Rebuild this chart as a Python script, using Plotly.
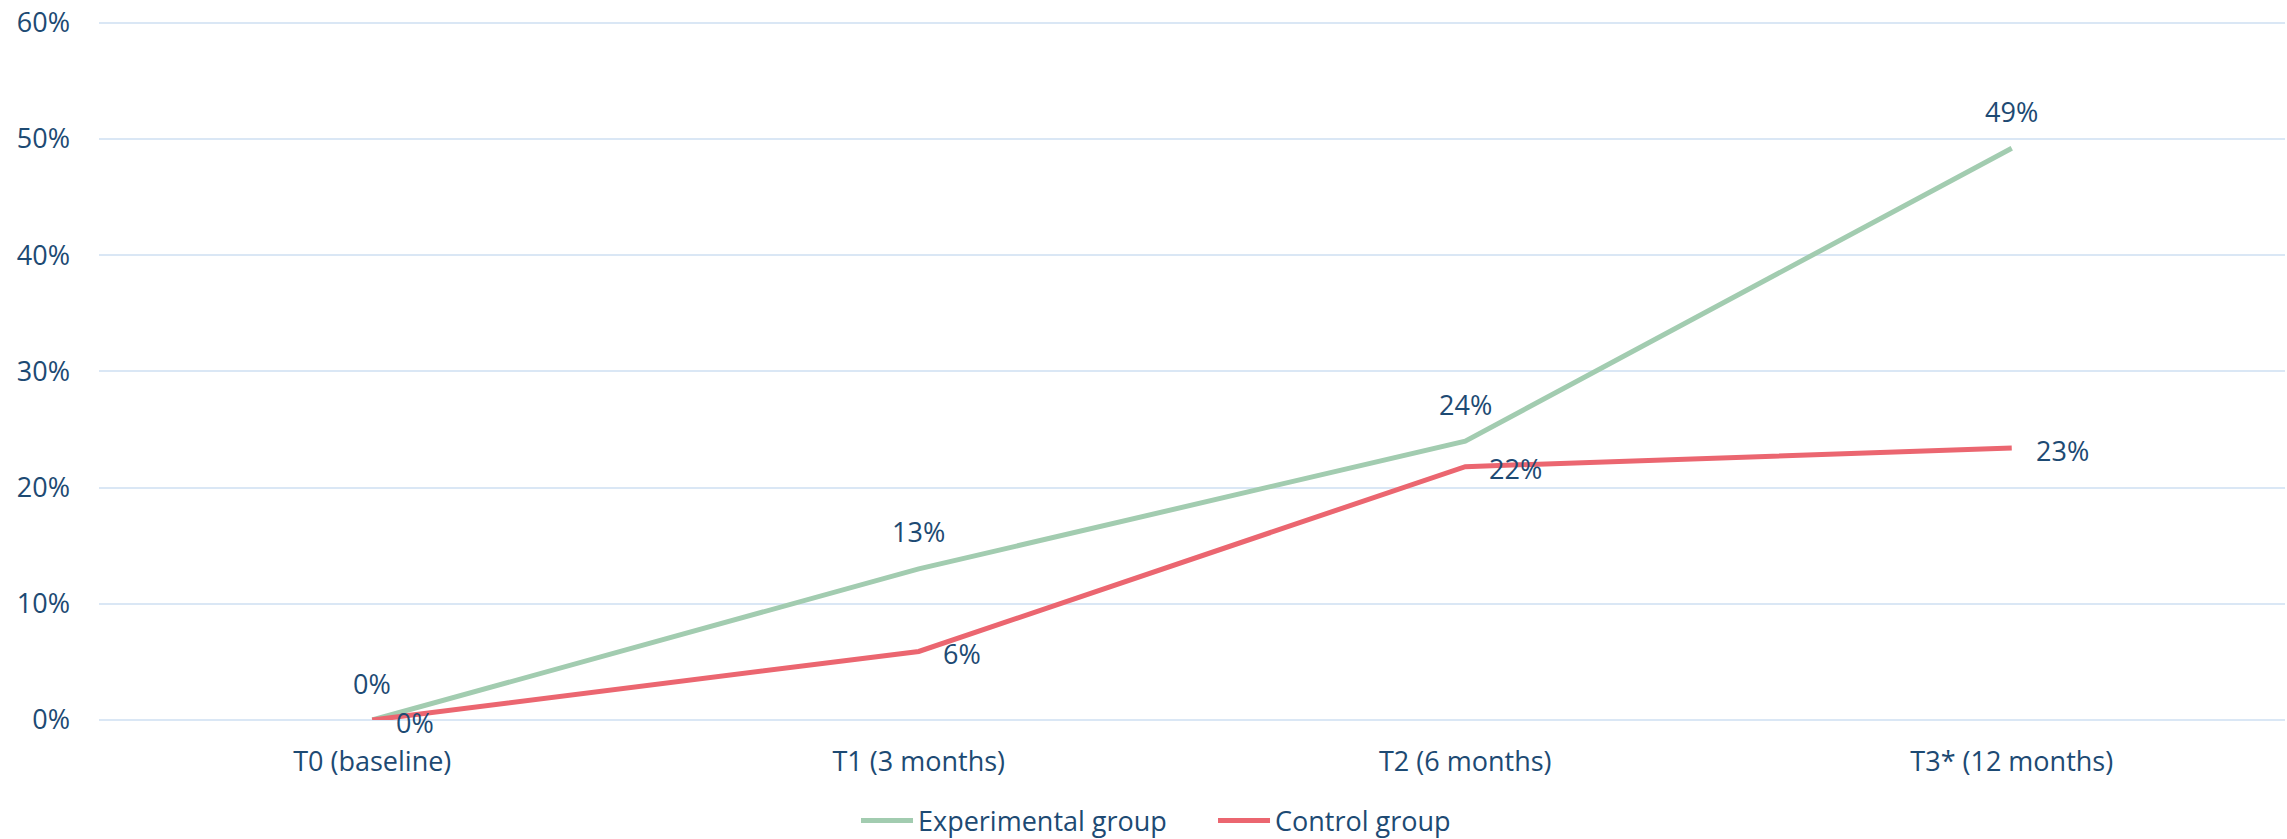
import plotly.graph_objects as go

categories = ["T0 (baseline)", "T1 (3 months)", "T2 (6 months)", "T3* (12 months)"]
experimental = [0.0, 0.13, 0.24, 0.492]
control = [0.0, 0.059, 0.218, 0.234]
y_ticks = [0, 0.1, 0.2, 0.3, 0.4, 0.5, 0.6]
y_tick_labels = ["0%", "10%", "20%", "30%", "40%", "50%", "60%"]

GREEN = "#A2CCB0"
RED = "#EB6670"
TEXT = "#1D4A73"
GRID = "#DAE7F5"
FONT = "Open Sans"
FS = 27

fig = go.Figure()
fig.add_trace(go.Scatter(x=categories, y=experimental, mode="lines", name="Experimental group",
                         line=dict(color=GREEN, width=5), cliponaxis=False))
fig.add_trace(go.Scatter(x=categories, y=control, mode="lines", name="Control group",
                         line=dict(color=RED, width=5), cliponaxis=False))

annotations = []
for c, v in zip(categories, experimental):
    annotations.append(dict(x=c, y=v, xref="x", yref="y", text=f"{round(v*100):.0f}%",
                            showarrow=False, xanchor="center", yanchor="middle", yshift=37,
                            font=dict(family=FONT, size=FS, color=TEXT)))
for c, v in zip(categories, control):
    annotations.append(dict(x=c, y=v, xref="x", yref="y", text=f"{round(v*100):.0f}%",
                            showarrow=False, xanchor="left", yanchor="middle", xshift=22, yshift=-2,
                            font=dict(family=FONT, size=FS, color=TEXT)))

fig.update_layout(
    width=2287, height=839,
    margin=dict(l=99, r=2, t=21, b=119, autoexpand=False),
    paper_bgcolor="white", plot_bgcolor="white",
    font=dict(family=FONT, size=FS, color=TEXT),
    showlegend=True,
    hovermode=False,
    legend=dict(orientation="h", x=0.3463, xanchor="left", y=-0.1443, yanchor="middle",
                font=dict(family=FONT, size=FS, color=TEXT), itemwidth=52,
                entrywidth=290, entrywidthmode="pixels",
                bgcolor="rgba(0,0,0,0)"),
    annotations=annotations,
)
fig.update_xaxes(type="category", range=[-0.5, 3.5], showgrid=False, showline=False,
                 ticks="", ticklabelstandoff=23, tickfont=dict(family=FONT, size=FS, color=TEXT))
fig.update_yaxes(range=[0, 0.6015], tickvals=y_ticks, ticktext=y_tick_labels, showgrid=True,
                 gridcolor=GRID, gridwidth=2, zeroline=True, zerolinecolor=GRID, zerolinewidth=2,
                 showline=False, ticks="", ticklabelstandoff=28, ticklabeloverflow="allow",
                 tickfont=dict(family=FONT, size=FS, color=TEXT))

fig.write_html("out.html", config={"displayModeBar": False},
               post_script="document.body.style.margin='0';document.body.style.overflow='hidden';")
